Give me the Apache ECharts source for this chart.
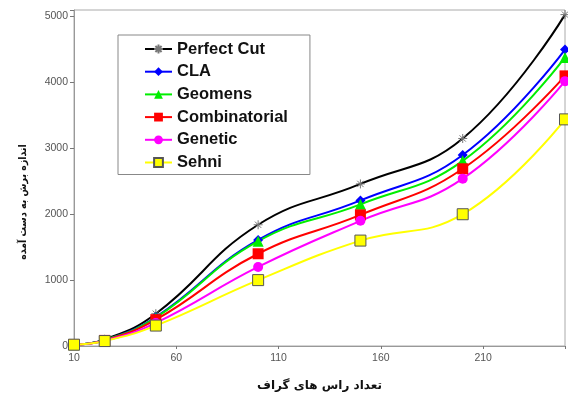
<!DOCTYPE html>
<html>
<head>
<meta charset="utf-8">
<script src="https://cdn.jsdelivr.net/npm/echarts@6/dist/echarts.min.js"></script>
<style>
html,body{margin:0;padding:0;background:#fff;}
#c{width:568px;height:402px;}
</style>
</head>
<body>
<div id="c"></div>
<script>
var xValues = [10, 25, 50, 100, 150, 200, 250];
var perfectCut = [20, 100, 490, 1840, 2460, 3150, 5030];
var cla = [20, 90, 440, 1610, 2210, 2900, 4500];
var geomens = [20, 90, 430, 1590, 2150, 2810, 4380];
var combinatorial = [20, 85, 400, 1400, 1990, 2690, 4100];
var genetic = [20, 80, 350, 1200, 1900, 2540, 4020];
var sehni = [20, 75, 310, 1000, 1600, 2000, 3440];
var seriesNames = ['Perfect Cut', 'CLA', 'Geomens', 'Combinatorial', 'Genetic', 'Sehni'];
var yTicks = [0, 1000, 2000, 3000, 4000, 5000];
var xTicks = [10, 60, 110, 160, 210];

function pairs(ys) { return xValues.map(function (x, i) { return [x, ys[i]]; }); }

var asterisk = 'path://M0,5L10,5M5,0L5,10M1.5,1.5L8.5,8.5M8.5,1.5L1.5,8.5';

function mk(name, data, color, symbol, size, itemStyle) {
  return {
    name: name, type: 'line', data: pairs(data), smooth: 0.45,
    symbol: symbol, symbolSize: size,
    lineStyle: { color: color, width: 2 },
    itemStyle: itemStyle || { color: color },
    emphasis: { disabled: true }
  };
}

var chart = echarts.init(document.getElementById('c'), null, { renderer: 'canvas' });
chart.setOption({
  animation: false,
  backgroundColor: '#fff',
  grid: { left: 74, right: 0, top: 10, bottom: 56, show: true, borderColor: '#aaa', borderWidth: 1 },
  xAxis: {
    type: 'value', min: 10, max: 250, interval: 50,
    name: 'تعداد راس های گراف', nameLocation: 'middle', nameGap: 34,
    nameTextStyle: { fontFamily: 'DejaVu Sans', fontWeight: 'bold', fontSize: 12, color: '#111' },
    axisLine: { show: true, lineStyle: { color: '#999', width: 1 } },
    axisTick: { show: true, length: 3, lineStyle: { color: '#777' } },
    splitLine: { show: false },
    axisLabel: {
      color: '#555', fontFamily: 'Liberation Sans', fontSize: 10.5, margin: 7,
      formatter: function (v) { return xTicks.indexOf(v) >= 0 ? String(v) : ''; }
    }
  },
  yAxis: {
    type: 'value', min: 0, max: 5100, interval: 1000,
    name: 'اندازه برش به دست آمده', nameLocation: 'middle', nameGap: 45, nameRotate: 90,
    nameTextStyle: { fontFamily: 'DejaVu Sans Condensed, DejaVu Sans', fontWeight: 'bold', fontSize: 10.5, color: '#111', padding: [0, 48, 0, 0] },
    axisLine: { show: true, lineStyle: { color: '#999', width: 1 } },
    axisTick: { show: true, length: 4, lineStyle: { color: '#777' } },
    splitLine: { show: false },
    axisLabel: {
      color: '#555', fontFamily: 'Liberation Sans', fontSize: 10.5, margin: 6,
      formatter: function (v) { return yTicks.indexOf(v) >= 0 ? String(v) : ''; }
    }
  },
  legend: {
    orient: 'vertical', left: 118, top: 35,
    padding: [5, 22, 3, 26],
    backgroundColor: '#fff', borderColor: '#888', borderWidth: 1, borderRadius: 0,
    itemWidth: 27, itemHeight: 11, itemGap: 4.7,
    textStyle: { fontFamily: 'Liberation Sans', fontWeight: 'bold', fontSize: 16.5, color: '#111', lineHeight: 18 },
    data: seriesNames
  },
  series: [
    mk(seriesNames[0], perfectCut, '#000000', asterisk, 9, { color: '#777', borderColor: '#777', borderWidth: 1 }),
    mk(seriesNames[1], cla, '#0000ff', 'diamond', 10),
    mk(seriesNames[2], geomens, '#00ee00', 'triangle', 11),
    mk(seriesNames[3], combinatorial, '#ff0000', 'rect', 11),
    mk(seriesNames[4], genetic, '#ff00ff', 'circle', 10),
    mk(seriesNames[5], sehni, '#ffff00', 'rect', 11, { color: '#ffff00', borderColor: '#555', borderWidth: 1 })
  ]
});
</script>
</body>
</html>
